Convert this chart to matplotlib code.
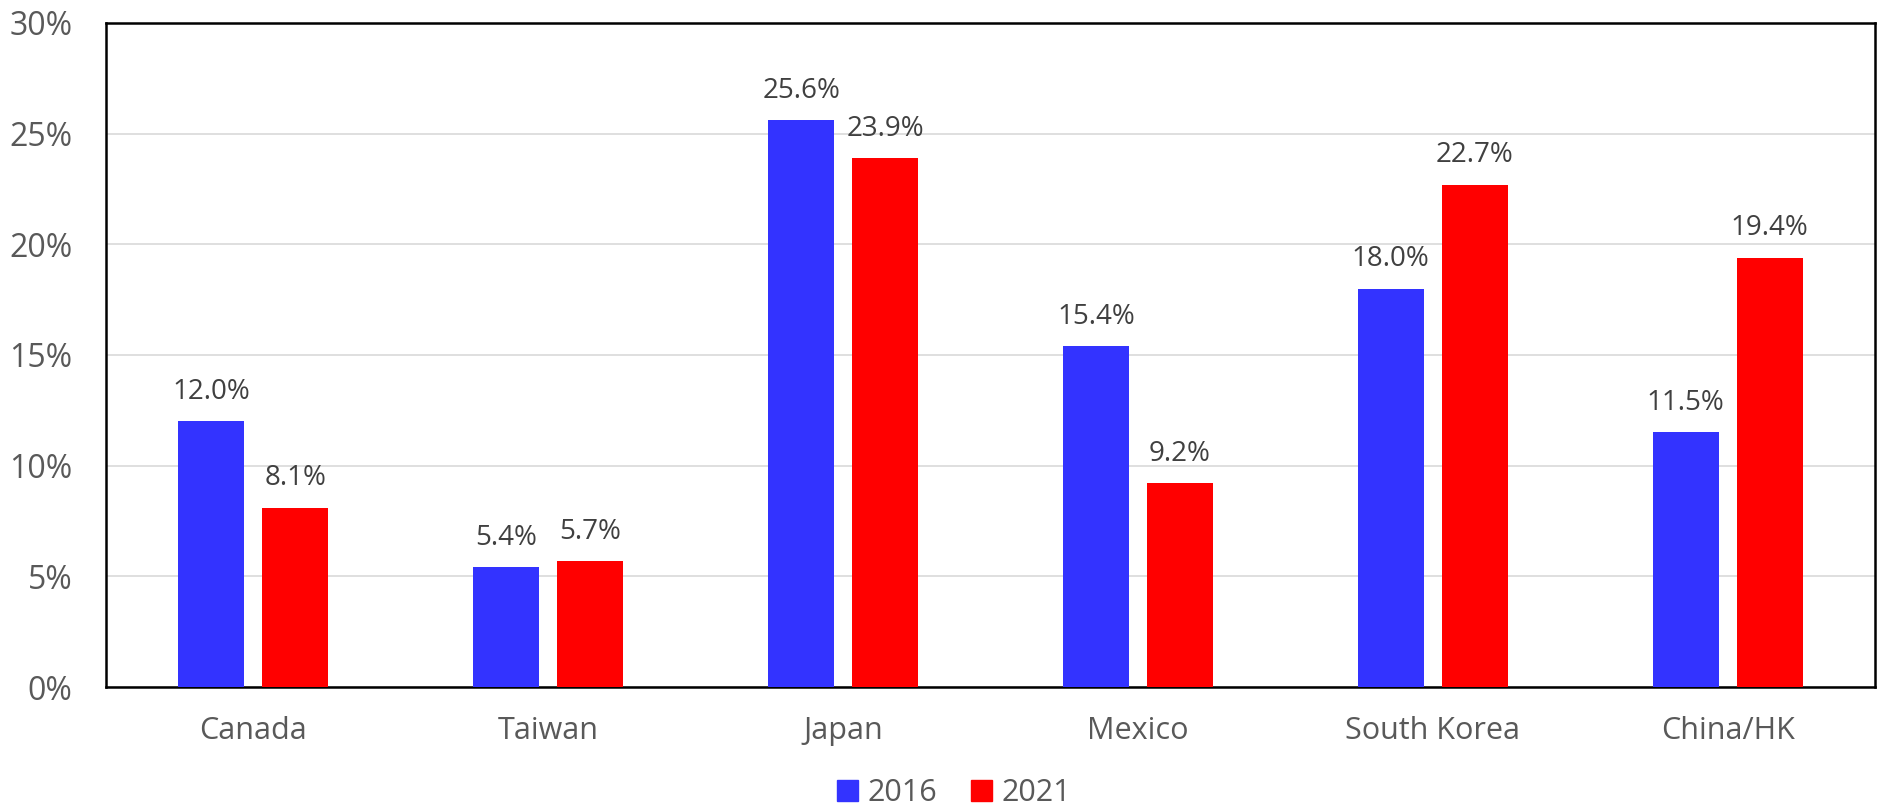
import matplotlib
matplotlib.use("Agg")
import matplotlib.pyplot as plt
import numpy as np
from matplotlib.patches import Patch

categories = ["Canada", "Taiwan", "Japan", "Mexico", "South Korea", "China/HK"]
values_2016 = [12.0, 5.4, 25.6, 15.4, 18.0, 11.5]
values_2021 = [8.1, 5.7, 23.9, 9.2, 22.7, 19.4]
series_names = ["2016", "2021"]
yticks = [0, 5, 10, 15, 20, 25, 30]

blue = "#3333FF"
red = "#FF0000"
text_gray = "#595959"
label_gray = "#404040"

plt.rcParams["font.family"] = ["Open Sans", "DejaVu Sans"]

fig = plt.figure(figsize=(18.83, 8.09), dpi=100)
ax = fig.add_axes([0.0563, 0.1508, 0.9395, 0.8208])

x = np.arange(len(categories))
width = 0.224
offset = 0.1425

b1 = ax.bar(x - offset, values_2016, width, color=blue, zorder=3)
b2 = ax.bar(x + offset, values_2021, width, color=red, zorder=3)

for bars, vals in ((b1, values_2016), (b2, values_2021)):
    for rect, v in zip(bars, vals):
        ax.annotate(f"{v:.1f}%", (rect.get_x() + rect.get_width() / 2, v),
                    xytext=(0, 11), textcoords="offset points",
                    ha="center", va="bottom", fontsize=20, color=label_gray)

ax.set_xlim(-0.5, len(categories) - 0.5)
ax.set_ylim(0, 30)
ax.set_yticks(yticks)
ax.set_yticklabels([f"{t}%" for t in yticks])
ax.set_xticks(x)
ax.set_xticklabels(categories)

ax.tick_params(axis="y", length=0, pad=24, labelsize=23, labelcolor=text_gray)
ax.tick_params(axis="x", length=0, pad=21, labelsize=22, labelcolor=text_gray)

ax.yaxis.grid(True, color="#d9d9d9", linewidth=1.2, zorder=0)
ax.set_axisbelow(True)
for s in ax.spines.values():
    s.set_color("black")
    s.set_linewidth(1.8)

handles = [Patch(color=blue, label=series_names[0]), Patch(color=red, label=series_names[1])]
leg = fig.legend(handles=handles, loc="center", bbox_to_anchor=(0.5066, 0.0198),
                 ncol=2, frameon=False, fontsize=22, handlelength=0.7,
                 handleheight=0.7, handletextpad=0.3, columnspacing=1.1,
                 labelcolor=text_gray)

fig.savefig("out.png", dpi=100, facecolor="white")
